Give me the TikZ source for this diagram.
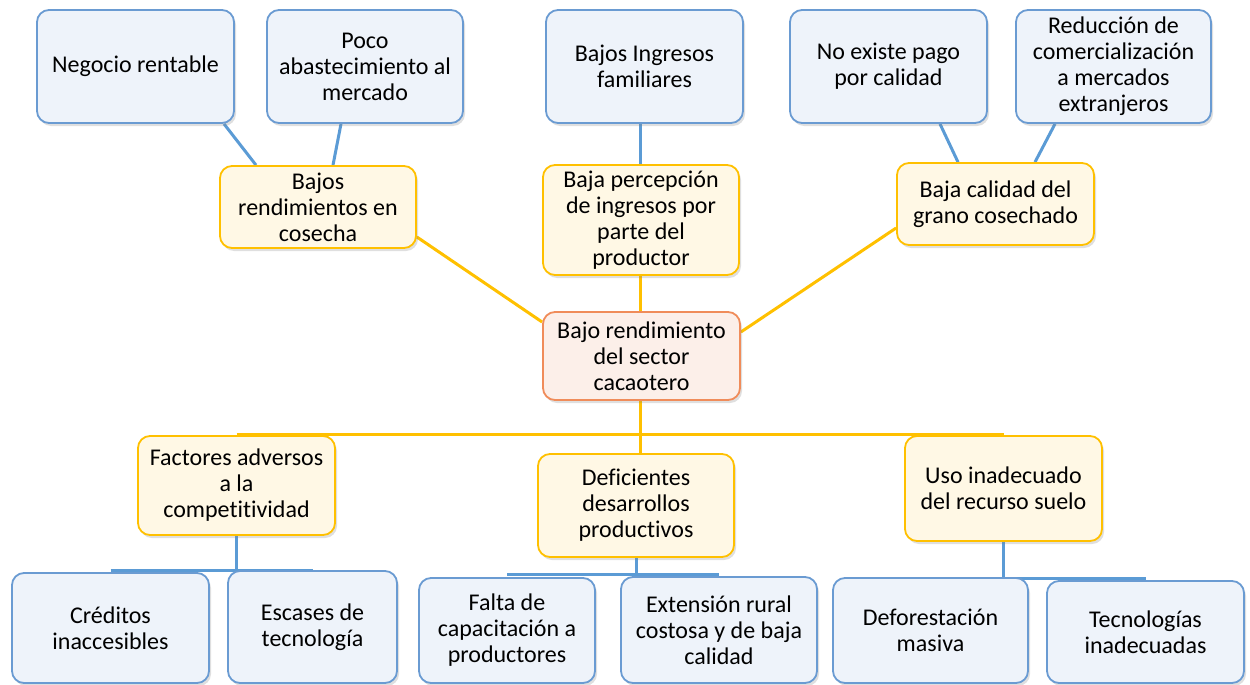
\documentclass[tikz,border=0pt]{standalone}
\usepackage{fontspec}
\setmainfont{Carlito}[Ligatures=NoCommon]
\usetikzlibrary{shadows,backgrounds}
\definecolor{bBorder}{RGB}{106,155,210}
\definecolor{bFill}{RGB}{238,243,250}
\definecolor{yBorder}{RGB}{255,192,0}
\definecolor{yFill}{RGB}{255,248,229}
\definecolor{oBorder}{RGB}{240,140,90}
\definecolor{oFill}{RGB}{252,239,233}
\definecolor{bLine}{RGB}{91,155,213}
\definecolor{yLine}{RGB}{255,192,0}
\begin{document}
\begin{tikzpicture}[x=1pt,y=-1pt,
  box/.style={rectangle,rounded corners=12pt,line width=1.8pt,align=center,inner sep=0pt,
    font=\fontsize{24}{26}\selectfont,
    drop shadow={opacity=0.25,shadow xshift=2pt,shadow yshift=-3pt}},
  bluebox/.style={box,draw=bBorder,fill=bFill},
  yellowbox/.style={box,draw=yBorder,fill=yFill},
  centerbox/.style={box,draw=oBorder,fill=oFill},
  bconn/.style={draw=bLine,line width=3pt},
  yconn/.style={draw=yLine,line width=3pt}]
\useasboundingbox (0,0) rectangle (1250,685);
% top row
\node[bluebox,minimum width=197pt,minimum height=113pt] (neg) at (135.5,66.5) {Negocio rentable};
\node[bluebox,minimum width=196pt,minimum height=113pt] (poco) at (365,66.5) {Poco\\abastecimiento al\\mercado};
\node[bluebox,minimum width=197pt,minimum height=113pt] (ingr) at (644.5,66.5) {Bajos Ingresos\\familiares};
\node[bluebox,minimum width=197pt,minimum height=113pt] (pago) at (888.5,66.5) {No existe pago\\por calidad};
\node[bluebox,minimum width=195pt,minimum height=113pt] (redu) at (1113.5,66.5) {Reducción de\\comercialización\\a mercados\\extranjeros};
% middle
\node[yellowbox,minimum width=196pt,minimum height=82pt] (rend) at (318,207) {Bajos\\rendimientos en\\cosecha};
\node[yellowbox,minimum width=196pt,minimum height=110pt] (perc) at (641,220) {Baja percepción\\de ingresos por\\parte del\\productor};
\node[yellowbox,minimum width=197pt,minimum height=82pt] (cali) at (995.5,204) {Baja calidad del\\grano cosechado};
\node[centerbox,minimum width=197pt,minimum height=88pt] (ctr) at (641.5,356) {Bajo rendimiento\\del sector\\cacaotero};
% bottom yellow
\node[yellowbox,minimum width=197pt,minimum height=99pt] (fact) at (236.5,485.5) {Factores adversos\\a la\\competitividad};
\node[yellowbox,minimum width=196pt,minimum height=103pt] (defi) at (636,505.5) {Deficientes\\desarrollos\\productivos};
\node[yellowbox,minimum width=197pt,minimum height=105pt] (suel) at (1003.5,488.5) {Uso inadecuado\\del recurso suelo};
% bottom blue
\node[bluebox,minimum width=197pt,minimum height=110pt] (cred) at (110.5,628) {Créditos\\inaccesibles};
\node[bluebox,minimum width=169pt,minimum height=112pt] (esca) at (312.5,627) {Escases de\\tecnología};
\node[bluebox,minimum width=176pt,minimum height=105pt] (falt) at (507,630.5) {Falta de\\capacitación a\\productores};
\node[bluebox,minimum width=196pt,minimum height=106pt] (exte) at (719,630) {Extensión rural\\costosa y de baja\\calidad};
\node[bluebox,minimum width=195pt,minimum height=105pt] (defo) at (930.5,630.5) {Deforestación\\masiva};
\node[bluebox,minimum width=197pt,minimum height=102pt] (tecn) at (1145.5,632) {Tecnologías\\inadecuadas};
% connectors
\begin{scope}[on background layer]
\draw[bconn] ([xshift=88.5pt]neg.south) -- ([xshift=-62pt]rend.north);
\draw[bconn] ([xshift=-24pt]poco.south) -- ([xshift=15pt]rend.north);
\draw[bconn] ([xshift=-4.5pt]ingr.south) -- ([xshift=-1pt]perc.north);
\draw[bconn] ([xshift=51.5pt]pago.south) -- ([xshift=-37.5pt]cali.north);
\draw[bconn] ([xshift=-58.5pt]redu.south) -- ([xshift=39.5pt]cali.north);
\draw[yconn] ([yshift=-30pt]rend.east) -- ([yshift=34pt]ctr.west);
\draw[yconn] ([xshift=-1pt]perc.south) -- ([xshift=-1.5pt]ctr.north);
\draw[yconn] ([yshift=-24pt]cali.west) -- ([yshift=24pt]ctr.east);
\draw[yconn] ([xshift=-1.5pt]ctr.south) -- ([xshift=-1.5pt,yshift=-1pt]ctr.south |- defi.north);
\draw[yconn] ([yshift=1pt]fact.north) -- ([yshift=1pt]suel.north);
\coordinate (dj) at (236.5,570);
\coordinate (ej) at (636,574);
\coordinate (fj) at (1003.5,578);
\draw[bconn] (fact.south) -- (fact.south |- dj);
\draw[bconn] (cred.north |- dj) -- (esca.north |- dj);
\draw[bconn] (defi.south) -- (defi.south |- ej);
\draw[bconn] (falt.north |- ej) -- (exte.north |- ej);
\draw[bconn] (suel.south) -- (suel.south |- fj);
\draw[bconn] (defo.north |- fj) -- (tecn.north |- fj);
\end{scope}
\end{tikzpicture}
\end{document}
